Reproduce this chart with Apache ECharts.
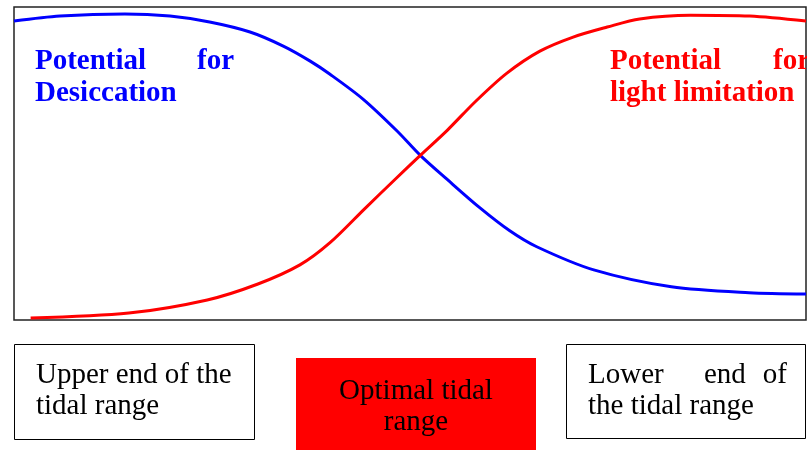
<!DOCTYPE html>
<html>
<head>
<meta charset="utf-8">
<script src="https://cdn.jsdelivr.net/npm/echarts@6/dist/echarts.min.js"></script>
<style>
html,body{margin:0;padding:0;background:#fff;}
#chart{width:809px;height:450px;}
</style>
</head>
<body>
<div id="chart"></div>
<script>
// Relative position along the tidal gradient (0 = upper end, 100 = lower end)
const desiccationX = [0, 5.8, 14.0, 19.7, 24.7, 29.8, 34.0, 37.4, 39.9, 44.1, 48.4, 51.3, 54.7, 58.8, 62.6, 66.0, 73.2, 83.0, 92.8, 100];
const desiccationY = [95.5, 97.1, 97.8, 97.1, 95.2, 92.0, 87.5, 82.7, 78.5, 70.5, 60.3, 52.6, 44.9, 35.9, 28.5, 23.4, 16.0, 10.6, 8.7, 8.3];

const lightX = [2.1, 14.5, 24.4, 30.8, 36.1, 39.9, 44.3, 48.1, 51.3, 54.7, 58.3, 62.2, 66.4, 70.6, 74.9, 79.0, 85.4, 92.9, 100];
const lightY = [0.6, 2.2, 6.4, 11.5, 17.6, 24.7, 35.6, 44.9, 52.6, 60.6, 69.9, 78.8, 85.9, 90.4, 93.6, 96.2, 97.4, 97.1, 95.5];

const desiccationLabel = ['Potential', 'for', 'Desiccation'];
const lightLabel = ['Potential', 'for', 'light limitation'];
const upperLabel = ['Upper end of the', 'tidal range'];
const optimalLabel = ['Optimal tidal', 'range'];
const lowerLabel = ['Lower', 'end', 'of', 'the tidal range'];

const pair = (xs, ys) => xs.map((x, i) => [x, ys[i]]);

const serif = "'Liberation Serif', 'Times New Roman', serif";
const boldFont = 'bold 29px ' + serif;
const normFont = '29px ' + serif;

function txt(text, x, y, font, fill, align) {
  return {type: 'text', z: 10, style: {text: text, x: x, y: y, font: font, fill: fill, align: align || 'left', verticalAlign: 'middle'}};
}

const chart = echarts.init(document.getElementById('chart'), null, {renderer: 'canvas'});
chart.setOption({
  animation: false,
  backgroundColor: '#fff',
  grid: {left: 14, right: 3, top: 7, bottom: 130, show: true, borderColor: '#222', borderWidth: 1.5, backgroundColor: 'transparent'},
  xAxis: {type: 'value', min: 0, max: 100, show: false},
  yAxis: {type: 'value', min: 0, max: 100, show: false},
  series: [
    {type: 'line', name: 'Potential for Desiccation', data: pair(desiccationX, desiccationY), smooth: 0.3, showSymbol: false, lineStyle: {color: '#0000ff', width: 3}},
    {type: 'line', name: 'Potential for light limitation', data: pair(lightX, lightY), smooth: 0.3, showSymbol: false, lineStyle: {color: '#ff0000', width: 3}}
  ],
  graphic: [
    txt(desiccationLabel[0], 35, 62, boldFont, '#0000ff'),
    txt(desiccationLabel[1], 234, 62, boldFont, '#0000ff', 'right'),
    txt(desiccationLabel[2], 35, 94, boldFont, '#0000ff'),
    txt(lightLabel[0], 610, 62, boldFont, '#ff0000'),
    txt(lightLabel[1], 773, 62, boldFont, '#ff0000'),
    txt(lightLabel[2], 610, 94, boldFont, '#ff0000'),
    {type: 'rect', z: 11, shape: {x: 807, y: 35, width: 3, height: 80}, style: {fill: '#fff'}},
    {type: 'rect', z: 5, shape: {x: 14.5, y: 344.5, width: 240, height: 95}, style: {fill: '#fff', stroke: '#000', lineWidth: 1}},
    txt(upperLabel[0], 36, 375, normFont, '#000'),
    txt(upperLabel[1], 36, 406, normFont, '#000'),
    {type: 'rect', z: 5, shape: {x: 296, y: 358, width: 240, height: 92}, style: {fill: '#ff0000'}},
    txt(optimalLabel[0], 416, 391, normFont, '#000', 'center'),
    txt(optimalLabel[1], 416, 422, normFont, '#000', 'center'),
    {type: 'rect', z: 5, shape: {x: 566.5, y: 344.5, width: 239, height: 94}, style: {fill: '#fff', stroke: '#000', lineWidth: 1}},
    txt(lowerLabel[0], 588, 375, normFont, '#000'),
    txt(lowerLabel[1], 704, 375, normFont, '#000'),
    txt(lowerLabel[2], 787, 375, normFont, '#000', 'right'),
    txt(lowerLabel[3], 588, 406, normFont, '#000')
  ]
});
</script>
</body>
</html>
